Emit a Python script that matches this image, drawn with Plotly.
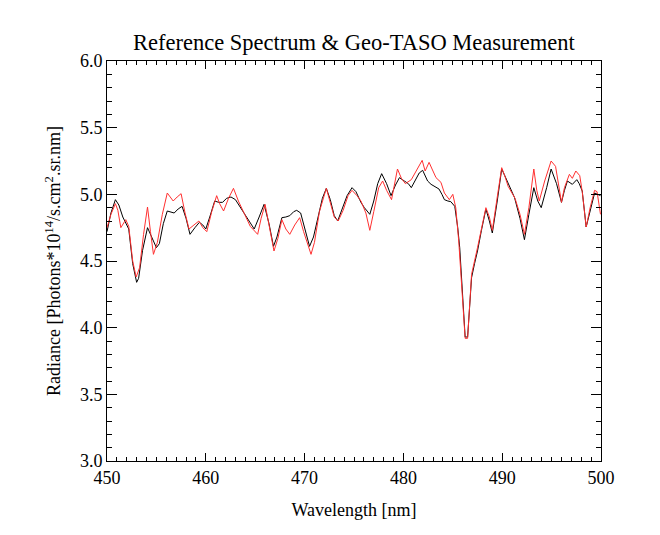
import plotly.graph_objects as go

# Reference spectrum (black)
ref_wl = [450.0, 450.4, 450.85, 451.2, 451.6, 451.9, 452.2, 452.6, 453.0, 453.2, 453.6, 454.1, 454.5, 455.0,
          455.3, 455.7, 456.1, 456.8, 457.2, 457.6, 458.0, 458.4, 458.9, 459.35, 459.7, 460.0, 460.4, 460.9,
          461.3, 461.7, 462.1, 462.55, 463.0, 463.5, 463.9, 464.4, 464.9, 465.4, 465.9, 466.4, 466.85, 467.2,
          467.7, 468.1, 468.5, 468.9, 469.2, 469.6, 470.0, 470.5, 470.9, 471.3, 471.8, 472.2, 472.6, 473.0,
          473.35, 473.8, 474.3, 474.8, 475.2, 475.7, 476.05, 476.6, 477.0, 477.4, 477.8, 478.3, 478.75, 479.2,
          479.6, 480.1, 480.5, 480.8, 481.2, 481.6, 481.95, 482.45, 482.8, 483.3, 483.6, 483.9, 484.15, 484.5,
          484.8, 485.2, 485.5, 485.7, 486.0, 486.25, 486.5, 486.7, 486.9, 487.2, 487.5, 487.9, 488.35, 488.7,
          489.0, 489.5, 489.95, 490.2, 490.55, 490.9, 491.25, 491.8, 492.25, 492.7, 493.2, 493.6, 493.95,
          494.5, 494.95, 495.5, 496.0, 496.3, 496.6, 497.1, 497.55, 497.8, 498.1, 498.5, 498.9, 499.35, 499.95]
ref_rad = [4.72, 4.86, 4.96, 4.92, 4.83, 4.79, 4.74, 4.48, 4.34, 4.37, 4.58, 4.75, 4.68, 4.60,
           4.63, 4.78, 4.875, 4.86, 4.89, 4.91, 4.82, 4.70, 4.75, 4.79, 4.77, 4.74, 4.83, 4.95,
           4.94, 4.94, 4.97, 4.98, 4.96, 4.90, 4.86, 4.79, 4.74, 4.83, 4.925, 4.78, 4.61, 4.68,
           4.825, 4.83, 4.84, 4.87, 4.88, 4.86, 4.74, 4.61, 4.68, 4.82, 4.97, 5.045, 4.96, 4.84,
           4.80, 4.89, 4.99, 5.05, 5.02, 4.94, 4.90, 4.85, 4.95, 5.08, 5.155, 5.08, 4.99, 5.07,
           5.125, 5.10, 5.08, 5.05, 5.10, 5.16, 5.18, 5.10, 5.075, 5.05, 5.04, 5.00, 4.96, 4.95,
           4.945, 4.91, 4.75, 4.60, 4.20, 3.93, 3.93, 4.15, 4.375, 4.48, 4.575, 4.73, 4.89, 4.80,
           4.71, 4.95, 5.19, 5.15, 5.09, 5.03, 4.975, 4.82, 4.66, 4.85, 5.05, 4.95, 4.90,
           5.05, 5.19, 5.08, 4.94, 5.03, 5.10, 5.075, 5.11, 5.08, 5.025, 4.755, 4.88, 5.01, 4.99]

# Geo-TASO measurement (red)
geo_wl = [450.0, 450.4, 450.85, 451.1, 451.4, 451.9, 452.2, 452.6, 452.95, 453.3, 453.7, 454.1, 454.4, 454.7,
          455.1, 455.6, 456.1, 456.4, 456.7, 457.1, 457.5, 457.9, 458.3, 458.8, 459.3, 459.7, 460.1, 460.6,
          461.1, 461.4, 461.8, 462.3, 462.8, 463.3, 463.9, 464.5, 465.25, 465.6, 466.0, 466.5, 466.9, 467.3,
          467.7, 468.1, 468.5, 469.0, 469.5, 469.9, 470.3, 470.65, 471.0, 471.5, 472.2, 472.6, 473.0, 473.4,
          473.9, 474.4, 474.8, 475.3, 475.7, 476.2, 476.6, 477.0, 477.5, 477.9, 478.3, 478.8, 479.1, 479.4,
          479.8, 480.2, 480.8, 481.3, 481.9, 482.2, 482.6, 482.9, 483.3, 483.8, 484.15, 484.65, 485.0, 485.3,
          485.6, 486.0, 486.25, 486.5, 486.7, 486.9, 487.5, 487.9, 488.35, 488.7, 489.0, 489.5, 489.95, 490.3,
          490.6, 491.3, 491.8, 492.25, 492.7, 493.2, 493.5, 493.75, 494.3, 494.95, 495.4, 496.0, 496.3, 496.8,
          497.1, 497.45, 497.85, 498.1, 498.5, 498.9, 499.35, 499.6, 499.95]
geo_rad = [4.75, 4.85, 4.93, 4.88, 4.75, 4.81, 4.76, 4.50, 4.38, 4.45, 4.70, 4.905, 4.72, 4.55,
           4.64, 4.85, 5.01, 4.98, 4.95, 4.98, 5.005, 4.86, 4.74, 4.77, 4.80, 4.75, 4.72, 4.87,
           4.99, 4.93, 4.875, 4.97, 5.045, 4.95, 4.86, 4.76, 4.70, 4.82, 4.925, 4.74, 4.575, 4.67,
           4.81, 4.74, 4.70, 4.77, 4.825, 4.72, 4.62, 4.55, 4.64, 4.87, 5.045, 4.94, 4.83, 4.80,
           4.88, 4.99, 5.03, 4.99, 4.95, 4.86, 4.73, 4.87, 5.05, 5.10, 5.03, 4.96, 5.07, 5.19,
           5.12, 5.08, 5.11, 5.18, 5.255, 5.175, 5.24, 5.19, 5.125, 5.09, 5.01, 4.96, 5.00, 4.90,
           4.65, 4.20, 3.92, 3.92, 4.18, 4.40, 4.60, 4.75, 4.90, 4.83, 4.73, 4.98, 5.20, 5.13,
           5.06, 4.97, 4.85, 4.70, 4.90, 5.19, 5.03, 4.95, 5.10, 5.25, 5.21, 4.94, 5.05, 5.15,
           5.12, 5.175, 5.14, 5.02, 4.755, 4.90, 5.03, 5.02, 4.85]

x_ticks = [450, 460, 470, 480, 490, 500]
y_ticks = [3.0, 3.5, 4.0, 4.5, 5.0, 5.5, 6.0]

FONT = "Liberation Serif"

fig = go.Figure()
fig.add_trace(go.Scatter(x=ref_wl, y=ref_rad, mode="lines",
                         line=dict(color="black", width=1), name="Reference"))
fig.add_trace(go.Scatter(x=geo_wl, y=geo_rad, mode="lines",
                         line=dict(color="#ff3030", width=1), name="Geo-TASO"))

axis_common = dict(showline=True, linecolor="black", linewidth=1, mirror="ticks",
                   ticks="inside", tickcolor="black", tickwidth=1,
                   showgrid=False, zeroline=False,
                   tickfont=dict(family=FONT, size=18, color="black"))

fig.update_layout(
    width=660, height=535,
    margin=dict(l=99, r=67, t=53, b=82),
    paper_bgcolor="white", plot_bgcolor="white",
    showlegend=False,
    font=dict(family=FONT, size=18, color="black"),
    title=dict(text="Reference Spectrum & Geo-TASO Measurement",
               font=dict(family=FONT, size=22.5, color="black"),
               x=0.524, xanchor="center", xref="container",
               y=1 - 34 / 535, yanchor="middle", yref="container"),
    xaxis=dict(range=[450, 500], tickvals=x_ticks, ticklen=8,
               minor=dict(dtick=1, ticklen=4, ticks="inside", tickcolor="black", showgrid=False),
               title=dict(text="Wavelength [nm]", font=dict(family=FONT, size=18), standoff=16),
               **axis_common),
    yaxis=dict(range=[3.0, 6.0], tickvals=y_ticks, tickformat=".1f", ticklen=10,
               minor=dict(dtick=0.1, ticklen=5, ticks="inside", tickcolor="black", showgrid=False),
               title=dict(text="Radiance [Photons*10<sup>14</sup>/s.cm<sup>2</sup>.sr.nm]",
                          font=dict(family=FONT, size=18), standoff=14),
               **axis_common),
)

fig.write_html("out.html")
